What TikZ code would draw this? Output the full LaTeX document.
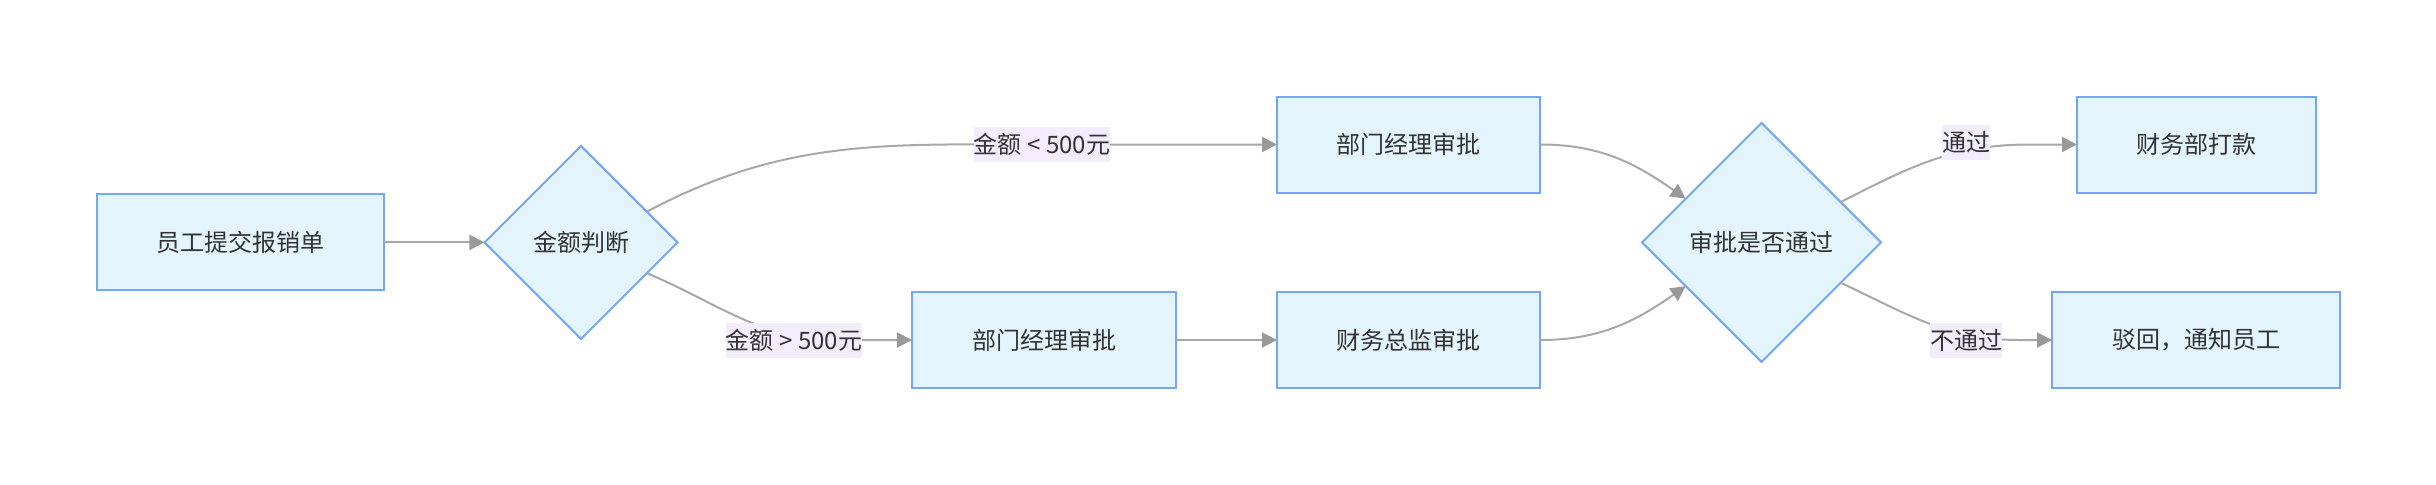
\documentclass[tikz,border=0pt]{standalone}
\usepackage{fontspec}
\setmainfont{Noto Sans CJK SC}
\usepackage{xcolor}
\definecolor{e3f4fd}{HTML}{E3F4FD}
\definecolor{b75a7f7}{HTML}{75A7F7}
\definecolor{f2ecfc}{HTML}{F2ECFC}
\definecolor{a8a8a8}{HTML}{A8A8A8}
\definecolor{b999999}{HTML}{999999}
\definecolor{c333333}{HTML}{333333}
\usepackage{tikz}
\usetikzlibrary{arrows.meta,shapes.geometric}

\begin{document}
\begin{tikzpicture}[x=0.5pt, y=-0.5pt,
        font=\fontsize{12}{14}\selectfont, text=c333333,
        box/.style={rectangle, draw=b75a7f7, fill=e3f4fd, line width=1pt, minimum height=48pt, inner sep=0pt, outer sep=0pt},
        choice/.style={diamond, draw=b75a7f7, fill=e3f4fd, line width=1pt, aspect=1, inner sep=0pt, outer sep=0pt},
        lbl/.style={rectangle, fill=f2ecfc, inner xsep=0pt, inner ysep=0pt, minimum height=17.5pt},
        flow/.style={draw=a8a8a8, line width=1pt, -{Triangle[length=7.5pt, width=7.5pt, color=b999999]}}]
                        \useasboundingbox (0, 0) rectangle (2436, 484);

                        \node (submit) at (240, 242.4) [box, minimum width=143.5pt] {员工提交报销单};
                        \node (amount) at (581, 242.4) [choice, minimum size=96.5pt] {金额判断};
                        \node (mgrA) at (1408.5, 144.5) [box, minimum width=131.5pt] {部门经理审批};
                        \node (mgrB) at (1044, 340) [box, minimum width=132pt] {部门经理审批};
                        \node (cfo) at (1408.5, 340) [box, minimum width=131.5pt] {财务总监审批};
                        \node (check) at (1761.5, 242.4) [choice, minimum size=119.5pt] {审批是否通过};
                        \node (pay) at (2196.5, 144.5) [box, minimum width=119.5pt] {财务部打款};
                        \node (reject) at (2196, 340) [box, minimum width=144pt] {驳回，通知员工};

                        % ends of the curved parts
                        \coordinate (lowend) at (1042, 144.5);
                        \coordinate (highend) at (840, 340);
                        \coordinate (passend) at (2030, 144.5);
                        \coordinate (failend) at (2020, 340);

                        \draw[flow] (submit) -- (amount);
                        \draw[flow] (amount.25) to [out=28, in=180] (lowend) -- (mgrA);
                        \draw[flow] (amount.-25) to [out=-23, in=180] (highend) -- (mgrB);
                        \draw[flow] (mgrB) -- (cfo);
                        \draw[flow] (mgrA) to [out=0, in=145] (check.150);
                        \draw[flow] (cfo) to [out=0, in=215] (check.210);
                        \draw[flow] (check.27) to [out=27, in=180] (passend) -- (pay);
                        \draw[flow] (check.-27) to [out=-25, in=180] (failend) -- (reject);

                        \node (lowlbl) at (1042, 144.5) [lbl] {金额 < 500元};
                        \node (highlbl) at (794, 340) [lbl] {金额 > 500元};
                        \node (passlbl) at (1966, 142) [lbl] {通过};
                        \node (faillbl) at (1966, 340) [lbl] {不通过};
                    \end{tikzpicture}
\end{document}
